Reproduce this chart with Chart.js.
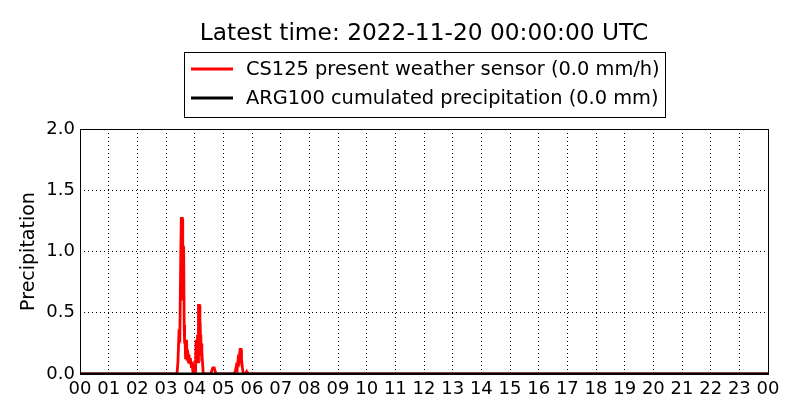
<!DOCTYPE html>
<html>
<head>
<meta charset="utf-8">
<script src="https://cdn.jsdelivr.net/npm/chart.js@4.4.0/dist/chart.umd.min.js"></script>
<style>
  body { margin: 0; background: #fff; }
  #precipCanvas { display: block; }
</style>
</head>
<body>
<canvas id="precipCanvas" width="800" height="420"></canvas>
<script>
// times are minutes after 00:00 UTC
const cs125Minutes = [0, 203, 205, 207, 209, 211, 212, 214, 215, 216, 217, 218, 219, 220, 221,
  222, 223, 224, 225, 227, 228, 230, 231, 233, 234, 236, 237, 239, 241, 242, 243, 245, 246, 247,
  248, 250, 251, 252, 253, 254, 255, 256, 258, 274, 276, 278, 281, 283, 285, 322, 325, 327, 329,
  331, 333, 335, 337, 338, 340, 342, 347, 349, 351, 353, 1440];
const cs125Rate = [0, 0, 0.1, 0.32, 0.3, 1.0, 1.27, 1.27, 0.6, 1.04, 1.02, 0.4, 0.25, 0.28, 0.12,
  0.2, 0.28, 0.12, 0.2, 0.1, 0.16, 0.08, 0.13, 0.06, 0.1, 0.03, 0.05, 0, 0.02, 0.1, 0.28, 0.2, 0.32, 0.1,
  0.56, 0.56, 0.3, 0.32, 0.15, 0.25, 0.1, 0.12, 0, 0, 0.03, 0.05, 0.05, 0.02, 0, 0, 0.02, 0.06, 0.04,
  0.12, 0.1, 0.2, 0.2, 0.12, 0.05, 0, 0, 0.02, 0.01, 0, 0];
const arg100Minutes = [0, 1440];
const arg100Total = [0, 0];
const hourLabels = ["00", "01", "02", "03", "04", "05", "06", "07", "08", "09", "10", "11",
  "12", "13", "14", "15", "16", "17", "18", "19", "20", "21", "22", "23", "00"];

Chart.defaults.font.family = "'DejaVu Sans'";
Chart.defaults.color = '#000';

const toPoints = (xs, ys) => xs.map((x, i) => ({ x: x, y: ys[i] }));

// matplotlib style: box round the axes and a boxed legend under the title
const frameAndLegend = {
  id: 'frameAndLegend',
  afterDraw(chart) {
    const { ctx, chartArea: a } = chart;
    ctx.save();
    ctx.strokeStyle = '#000';
    ctx.lineWidth = 1;
    ctx.strokeRect(Math.round(a.left) + 0.5, Math.round(a.top) + 0.5,
      Math.round(a.right - a.left), Math.round(a.bottom - a.top));

    ctx.font = "19.4px 'DejaVu Sans'";
    const items = chart.data.datasets;
    const textW = Math.max(...items.map(d => ctx.measureText(d.label).width));
    const boxW = Math.round(7 + 42 + 13 + textW + 5);
    const left = Math.round((a.left + a.right) / 2 - boxW / 2);
    const top = 52;
    ctx.fillStyle = '#fff';
    ctx.fillRect(left, top, boxW, 65);
    ctx.strokeRect(left + 0.5, top + 0.5, boxW, 65);
    items.forEach((d, i) => {
      const y = top + 17 + i * 29;
      ctx.strokeStyle = d.borderColor;
      ctx.lineWidth = 2.8;
      ctx.beginPath();
      ctx.moveTo(left + 7, y);
      ctx.lineTo(left + 49, y);
      ctx.stroke();
      ctx.fillStyle = '#000';
      ctx.textBaseline = 'middle';
      ctx.fillText(d.label, left + 62, y + 1);
    });
    ctx.restore();
  }
};

new Chart(document.getElementById('precipCanvas'), {
  type: 'line',
  data: {
    datasets: [
      {
        label: 'CS125 present weather sensor (0.0 mm/h)',
        data: toPoints(cs125Minutes, cs125Rate),
        borderColor: '#ff0000',
        borderWidth: 2.8,
        pointRadius: 0,
        tension: 0,
        order: 1
      },
      {
        label: 'ARG100 cumulated precipitation (0.0 mm)',
        data: toPoints(arg100Minutes, arg100Total),
        borderColor: '#000000',
        borderWidth: 2.8,
        pointRadius: 0,
        tension: 0,
        order: 0
      }
    ]
  },
  options: {
    responsive: false,
    animation: false,
    layout: { padding: { left: 0, right: 32, top: 0, bottom: 0 } },
    plugins: {
      legend: { display: false },
      tooltip: { enabled: false },
      title: {
        display: true,
        fullSize: false,
        text: 'Latest time: 2022-11-20 00:00:00 UTC',
        color: '#000',
        font: { size: 23.3, weight: 'normal' },
        padding: { top: 20, bottom: 81.04 }
      }
    },
    scales: {
      x: {
        type: 'linear',
        min: 0,
        max: 1440,
        ticks: {
          stepSize: 60,
          autoSkip: false,
          maxRotation: 0,
          padding: 5,
          font: { size: 18 },
          callback: (v, i) => hourLabels[i]
        },
        grid: { color: '#000', lineWidth: 1, drawTicks: false },
        border: { display: false, dash: [1, 3] },
        afterFit: s => { s.height = 46; }
      },
      y: {
        min: 0,
        max: 2,
        ticks: {
          stepSize: 0.5,
          padding: 5,
          font: { size: 18 },
          callback: v => v.toFixed(1)
        },
        grid: { color: '#000', lineWidth: 1, drawTicks: false },
        border: { display: false, dash: [1, 3] },
        title: {
          display: true,
          text: 'Precipitation',
          font: { size: 19 },
          padding: { top: 17.6, bottom: 0 }
        },
        afterFit: s => { s.width = 80; }
      }
    }
  },
  plugins: [frameAndLegend]
});
</script>
</body>
</html>
